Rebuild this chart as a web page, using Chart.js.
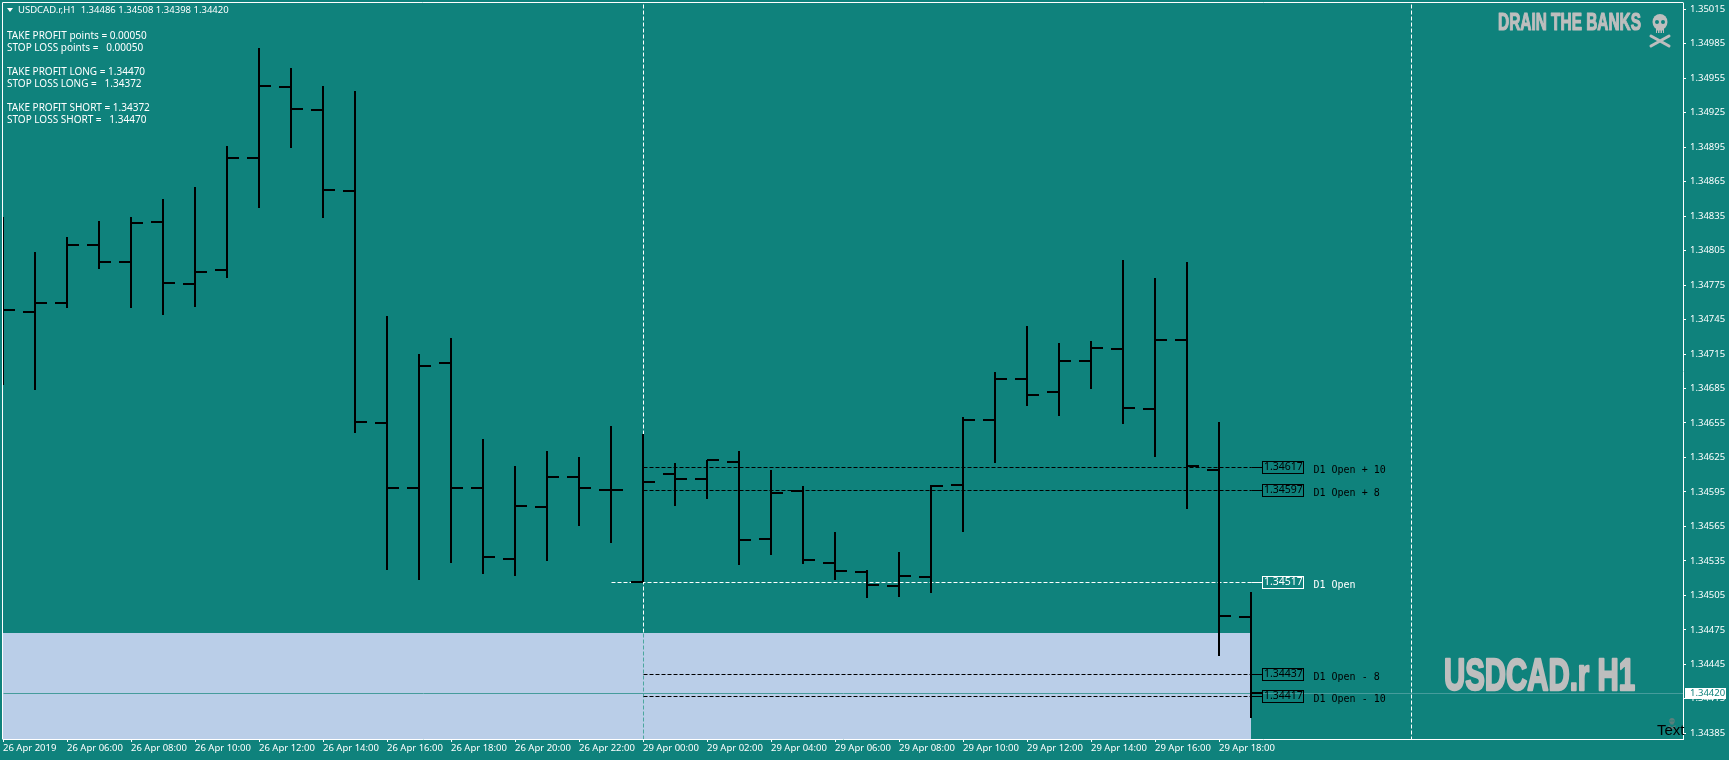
<!DOCTYPE html>
<html>
<head>
<meta charset="utf-8">
<title>USDCAD.r H1</title>
<script src="https://cdn.jsdelivr.net/npm/chart.js@4"></script>
<style>
  html, body { margin: 0; padding: 0; background: #0f827c; overflow: hidden; }
  canvas { display: block; }
</style>
</head>
<body>
<canvas id="chart" width="1729" height="760"></canvas>
<script>
// H1 bars, one per hour
const opens = [1.34753, 1.34752, 1.34759, 1.34810, 1.34795, 1.34830, 1.34776, 1.34788, 1.34886, 1.34947,
  1.34927, 1.34857, 1.34655, 1.34598, 1.34707, 1.34598, 1.34537, 1.34582, 1.34608, 1.34597,
  1.34517, 1.34611, 1.34606, 1.34621, 1.34554, 1.34596, 1.34533, 1.34525, 1.34513, 1.34521,
  1.34601, 1.34658, 1.34693, 1.34682, 1.34709, 1.34719, 1.34667, 1.34727, 1.34614, 1.34486];
const highs = [1.34834, 1.34804, 1.34817, 1.34831, 1.34834, 1.34850, 1.34860, 1.34896, 1.34981, 1.34964,
  1.34948, 1.34944, 1.34748, 1.34715, 1.34729, 1.34641, 1.34618, 1.34631, 1.34625, 1.34652,
  1.34645, 1.34620, 1.34623, 1.34631, 1.34614, 1.34600, 1.34560, 1.34527, 1.34543, 1.34601,
  1.34660, 1.34699, 1.34739, 1.34725, 1.34726, 1.34797, 1.34781, 1.34795, 1.34656, 1.34508];
const lows = [1.34688, 1.34684, 1.34755, 1.34789, 1.34755, 1.34749, 1.34756, 1.34781, 1.34842, 1.34894,
  1.34833, 1.34646, 1.34527, 1.34518, 1.34533, 1.34524, 1.34522, 1.34535, 1.34565, 1.34551,
  1.34517, 1.34583, 1.34589, 1.34531, 1.34540, 1.34532, 1.34518, 1.34503, 1.34504, 1.34507,
  1.34560, 1.34620, 1.34670, 1.34661, 1.34685, 1.34654, 1.34625, 1.34580, 1.34452, 1.34398];
const closes = [1.34753, 1.34759, 1.34810, 1.34795, 1.34829, 1.34777, 1.34786, 1.34886, 1.34948, 1.34928,
  1.34858, 1.34656, 1.34598, 1.34705, 1.34598, 1.34538, 1.34583, 1.34608, 1.34598, 1.34597,
  1.34604, 1.34606, 1.34623, 1.34553, 1.34594, 1.34536, 1.34526, 1.34514, 1.34522, 1.34600,
  1.34658, 1.34693, 1.34679, 1.34709, 1.34720, 1.34668, 1.34727, 1.34618, 1.34487, 1.34420];

const priceTicks = [1.35015, 1.34985, 1.34955, 1.34925, 1.34895, 1.34865, 1.34835, 1.34805, 1.34775, 1.34745, 1.34715,
  1.34685, 1.34655, 1.34625, 1.34595, 1.34565, 1.34535, 1.34505, 1.34475, 1.34445, 1.34415, 1.34385];
const timeTickBars = [0, 2, 4, 6, 8, 10, 12, 14, 16, 18, 20, 22, 24, 26, 28, 30, 32, 34, 36, 38];
const timeTickLabels = ['26 Apr 2019', '26 Apr 06:00', '26 Apr 08:00', '26 Apr 10:00', '26 Apr 12:00', '26 Apr 14:00',
  '26 Apr 16:00', '26 Apr 18:00', '26 Apr 20:00', '26 Apr 22:00', '29 Apr 00:00', '29 Apr 02:00', '29 Apr 04:00',
  '29 Apr 06:00', '29 Apr 08:00', '29 Apr 10:00', '29 Apr 12:00', '29 Apr 14:00', '29 Apr 16:00', '29 Apr 18:00'];

// D1 open levels
const levelPrices = [1.34617, 1.34597, 1.34517, 1.34437, 1.34417];
const levelNames = ['D1 Open + 10', 'D1 Open + 8', 'D1 Open', 'D1 Open - 8', 'D1 Open - 10'];
const levelStarts = [20, 20, 19, 20, 20];
const levelColors = ['#000000', '#000000', '#ffffff', '#000000', '#000000'];

const noteLines = [
  ['TAKE PROFIT points = 0.00050', 36], ['STOP LOSS points =   0.00050', 48],
  ['TAKE PROFIT LONG = 1.34470', 72], ['STOP LOSS LONG =   1.34372', 84],
  ['TAKE PROFIT SHORT = 1.34372', 108], ['STOP LOSS SHORT =   1.34470', 120]
];
const headerText = 'USDCAD.r,H1  1.34486 1.34508 1.34398 1.34420';

const BG = '#0f827c';
const BOX_BLUE = '#bacee8';
const UI_FONT = '"Noto Sans"';
const lastBar = 39;
const lastPrice = closes[lastBar];
const boxTop = 1.34472;
const separatorBars = [20, 44];

// one line dataset that breaks between bars
function segments(build) {
  const pts = [];
  opens.forEach((_, i) => {
    build(i).forEach(p => pts.push(p));
    pts.push({ x: i, y: null });
  });
  return pts;
}

const blackLine = { borderColor: '#000000', borderWidth: 2 };
const datasets = [
  { ...blackLine, order: 1, data: segments(i => [{ x: i, y: highs[i] }, { x: i, y: lows[i] }]) },
  { ...blackLine, order: 1, data: segments(i => [{ x: i - 0.375, y: opens[i] }, { x: i, y: opens[i] }]) },
  { ...blackLine, order: 1, data: segments(i => [{ x: i, y: closes[i] }, { x: i + 0.375, y: closes[i] }]) },
  // current price
  { borderColor: '#469c9c', borderWidth: 1, order: 2, data: [{ x: 0, y: lastPrice }, { x: 52.5, y: lastPrice }] },
  // blue zone
  { borderColor: BOX_BLUE, borderWidth: 0, order: 5, fill: 'start', backgroundColor: BOX_BLUE,
    data: [{ x: 0, y: boxTop }, { x: lastBar, y: boxTop }] },
  // period separators
  { borderColor: '#ffffff', borderWidth: 1, borderDash: [4, 2], order: 4,
    data: [{ x: separatorBars[0], y: 1.3503 }, { x: separatorBars[0], y: boxTop }] },
  { borderColor: '#4ca79f', borderWidth: 1, borderDash: [4, 2], order: 4,
    data: [{ x: separatorBars[0], y: boxTop }, { x: separatorBars[0], y: 1.3438 }] },
  { borderColor: '#ffffff', borderWidth: 1, borderDash: [4, 2], order: 4,
    data: [{ x: separatorBars[1], y: 1.3503 }, { x: separatorBars[1], y: 1.3438 }] }
];
levelPrices.forEach((price, i) => {
  datasets.push({ borderColor: levelColors[i], borderWidth: 1, borderDash: [4, 2], order: 3,
    data: [{ x: levelStarts[i], y: price }, { x: lastBar, y: price }] });
  datasets.push({ borderColor: levelColors[i], borderWidth: 1, order: 3,
    data: [{ x: lastBar, y: price }, { x: lastBar + 0.34, y: price }] });
});

// keep every line on whole pixels like the terminal does
const snapPixels = {
  id: 'snapPixels',
  afterDatasetsUpdate(chart) {
    chart.getSortedVisibleDatasetMetas().forEach(meta => {
      const off = chart.data.datasets[meta.index].borderWidth === 1 ? 0.5 : 0;
      meta.data.forEach(pt => {
        pt.x = Math.round(pt.x) + off;
        pt.y = Math.round(pt.y) + off;
      });
    });
  }
};

function text(ctx, str, x, y, font, color, align) {
  ctx.font = font;
  ctx.fillStyle = color;
  ctx.textAlign = align || 'left';
  ctx.textBaseline = 'middle';
  ctx.fillText(str, x, y);
}

// heavy watermark text squeezed to a given box
function heavyText(ctx, str, x, baseline, width, font, lineW) {
  ctx.save();
  ctx.font = font;
  ctx.textAlign = 'left';
  ctx.textBaseline = 'alphabetic';
  const w = ctx.measureText(str).width;
  ctx.translate(x, baseline);
  ctx.scale(width / w, 1);
  ctx.fillStyle = '#bebebe';
  ctx.strokeStyle = '#bebebe';
  ctx.lineWidth = lineW;
  ctx.lineJoin = 'round';
  ctx.fillText(str, 0, 0);
  ctx.strokeText(str, 0, 0);
  ctx.restore();
}

// skull over crossed bones, cx/top in pixels, s = 1 is the big corner one
function skull(ctx, cx, top, s, color, holes) {
  ctx.save();
  ctx.translate(cx, top);
  ctx.scale(s, s);
  ctx.fillStyle = color;
  ctx.strokeStyle = color;
  ctx.beginPath();
  ctx.ellipse(0, 8, 7.5, 8, 0, 0, Math.PI * 2);
  ctx.fill();
  ctx.fillRect(-4, 12, 8, 7);
  ctx.lineWidth = 3;
  ctx.lineCap = 'round';
  ctx.beginPath();
  ctx.moveTo(-9, 22);
  ctx.lineTo(9, 32);
  ctx.moveTo(9, 22);
  ctx.lineTo(-9, 32);
  ctx.stroke();
  ctx.fillStyle = holes;
  ctx.beginPath();
  ctx.arc(-3, 8, 2, 0, Math.PI * 2);
  ctx.arc(3, 8, 2, 0, Math.PI * 2);
  ctx.fill();
  ctx.fillRect(-3, 16.5, 1, 2.5);
  ctx.fillRect(-0.5, 16.5, 1, 2.5);
  ctx.fillRect(2, 16.5, 1, 2.5);
  ctx.restore();
}

const overlays = {
  id: 'overlays',
  afterDraw(chart) {
    const { ctx, chartArea: area, scales: { x, y } } = chart;
    ctx.save();

    // left and top of the frame
    ctx.strokeStyle = '#ffffff';
    ctx.lineWidth = 1;
    ctx.beginPath();
    ctx.moveTo(2.5, 739.5);
    ctx.lineTo(2.5, 2.5);
    ctx.lineTo(area.right + 0.5, 2.5);
    ctx.stroke();

    // header and notes
    ctx.fillStyle = '#ffffff';
    ctx.beginPath();
    ctx.moveTo(7, 8);
    ctx.lineTo(13, 8);
    ctx.lineTo(10, 12);
    ctx.closePath();
    ctx.fill();
    text(ctx, headerText, 18, 10.5, '9.5px ' + UI_FONT, '#ffffff');
    noteLines.forEach(n => text(ctx, n[0], 7, n[1], '10px ' + UI_FONT, '#ffffff'));

    // level boxes and names
    const boxLeft = Math.round(x.getPixelForValue(lastBar)) + 11;
    levelPrices.forEach((price, i) => {
      const py = Math.round(y.getPixelForValue(price));
      ctx.strokeStyle = levelColors[i];
      ctx.lineWidth = 1;
      ctx.strokeRect(boxLeft + 0.5, py - 5.5, 41, 12);
      text(ctx, price.toFixed(5), boxLeft + 2, py + 0.5, '10.5px ' + UI_FONT, levelColors[i]);
      text(ctx, levelNames[i], boxLeft + 51.5, py + 3, '10px "DejaVu Sans Mono"', levelColors[i]);
    });

    // last price tag on the axis
    const tagY = Math.round(y.getPixelForValue(lastPrice));
    ctx.fillStyle = '#ffffff';
    ctx.fillRect(1685, tagY - 5, 41, 11);
    text(ctx, lastPrice.toFixed(5), 1690, tagY + 0.5, '9.5px ' + UI_FONT, BG);

    // watermarks
    heavyText(ctx, 'DRAIN THE BANKS', 1498, 29.5, 143, 'bold 23px "Liberation Sans"', 1.2);
    skull(ctx, 1660, 14, 1, '#bebebe', BG);
    heavyText(ctx, 'USDCAD.r H1', 1444, 690, 191, 'bold 45px "Liberation Sans"', 2.4);

    skull(ctx, 1672, 718, 0.36, '#5c7f7c', BG);
    text(ctx, 'Text', 1657, 731, '15px "Liberation Sans"', '#000000');
    ctx.restore();
  }
};

new Chart(document.getElementById('chart'), {
  type: 'line',
  data: { datasets },
  plugins: [snapPixels, overlays],
  options: {
    responsive: false,
    animation: false,
    events: [],
    layout: { padding: { left: 3, top: 3 } },
    elements: { point: { radius: 0 }, line: { tension: 0 } },
    plugins: { legend: { display: false }, tooltip: { enabled: false } },
    scales: {
      x: {
        type: 'linear',
        min: 0,
        max: 52.5,
        grid: { drawOnChartArea: false, color: '#ffffff', tickLength: 3, tickColor: '#ffffff' },
        border: { color: '#ffffff' },
        afterBuildTicks(scale) { scale.ticks = timeTickBars.map(value => ({ value })); },
        afterFit(scale) {
          scale.height = 21;
          scale.paddingLeft = 0;
          scale.paddingRight = 0;
        },
        ticks: {
          autoSkip: false,
          maxRotation: 0,
          align: 'start',
          padding: 1,
          color: '#ffffff',
          font: { family: 'Noto Sans', size: 9.5 },
          callback: (value, index) => timeTickLabels[index]
        }
      },
      y: {
        position: 'right',
        min: 1.3438,
        max: 1.350205,
        grid: { drawOnChartArea: false, color: '#ffffff', tickLength: 3, tickColor: '#ffffff' },
        border: { color: '#ffffff' },
        afterBuildTicks(scale) { scale.ticks = priceTicks.map(value => ({ value })); },
        afterFit(scale) {
          scale.width = 46;
          scale.paddingTop = 0;
          scale.paddingBottom = 0;
        },
        ticks: {
          autoSkip: false,
          padding: 4,
          color: '#ffffff',
          font: { family: 'Noto Sans', size: 9.5 },
          callback: value => value.toFixed(5)
        }
      }
    }
  }
});
</script>
</body>
</html>
